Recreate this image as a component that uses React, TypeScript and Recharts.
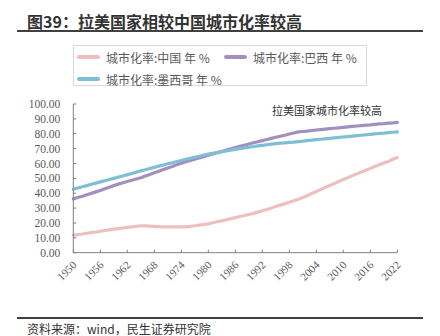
import React from 'react';
import { LineChart, Line, XAxis, YAxis } from 'recharts';

const years = [
  1950, 1951, 1952, 1953, 1954, 1955, 1956, 1957, 1958, 1959,
  1960, 1961, 1962, 1963, 1964, 1965, 1966, 1967, 1968, 1969,
  1970, 1971, 1972, 1973, 1974, 1975, 1976, 1977, 1978, 1979,
  1980, 1981, 1982, 1983, 1984, 1985, 1986, 1987, 1988, 1989,
  1990, 1991, 1992, 1993, 1994, 1995, 1996, 1997, 1998, 1999,
  2000, 2001, 2002, 2003, 2004, 2005, 2006, 2007, 2008, 2009,
  2010, 2011, 2012, 2013, 2014, 2015, 2016, 2017, 2018, 2019,
  2020, 2021, 2022,
];

const china = [
  11.8, 12.2, 12.6, 13.1, 13.5, 13.9, 14.4, 14.9, 15.4, 15.8,
  16.2, 16.6, 17.0, 17.4, 17.8, 18.1, 18.0, 17.9, 17.7, 17.6,
  17.4, 17.4, 17.4, 17.4, 17.4, 17.4, 17.7, 18.1, 18.6, 19.0,
  19.4, 20.1, 20.8, 21.5, 22.2, 22.9, 23.6, 24.3, 25.0, 25.7,
  26.4, 27.3, 28.2, 29.1, 30.0, 31.0, 32.0, 33.0, 33.9, 34.9,
  35.9, 37.1, 38.4, 39.8, 41.1, 42.5, 43.9, 45.2, 46.5, 47.9,
  49.2, 50.5, 51.8, 53.0, 54.3, 55.5, 56.7, 57.9, 59.2, 60.3,
  61.4, 62.8, 64.0,
];

const brazil = [
  36.2, 37.1, 38.0, 39.0, 39.9, 40.9, 41.9, 43.0, 44.0, 45.1,
  46.1, 47.0, 47.9, 48.7, 49.6, 50.4, 51.5, 52.6, 53.7, 54.8,
  55.9, 57.0, 58.0, 59.1, 60.1, 61.2, 62.0, 62.9, 63.8, 64.6,
  65.5, 66.4, 67.3, 68.1, 69.0, 69.9, 70.7, 71.5, 72.3, 73.1,
  73.9, 74.6, 75.4, 76.1, 76.9, 77.6, 78.3, 79.0, 79.8, 80.5,
  81.2, 81.5, 81.8, 82.2, 82.5, 82.8, 83.1, 83.4, 83.7, 84.0,
  84.3, 84.6, 84.9, 85.2, 85.5, 85.8, 86.0, 86.3, 86.6, 86.8,
  87.1, 87.3, 87.6,
];

const mexico = [
  42.7, 43.5, 44.3, 45.1, 46.0, 46.8, 47.6, 48.4, 49.2, 50.0,
  50.8, 51.6, 52.5, 53.3, 54.2, 55.0, 55.8, 56.6, 57.4, 58.2,
  59.0, 59.8, 60.5, 61.3, 62.0, 62.8, 63.5, 64.2, 64.9, 65.6,
  66.3, 66.8, 67.4, 67.9, 68.5, 69.0, 69.5, 70.0, 70.4, 70.9,
  71.4, 71.8, 72.2, 72.6, 73.0, 73.4, 73.7, 73.9, 74.2, 74.4,
  74.7, 75.0, 75.4, 75.7, 76.0, 76.3, 76.6, 76.9, 77.2, 77.5,
  77.8, 78.1, 78.4, 78.7, 79.0, 79.3, 79.6, 79.9, 80.2, 80.4,
  80.7, 81.0, 81.3,
];

const yTicks = [0, 10, 20, 30, 40, 50, 60, 70, 80, 90, 100];

const series = [
  { key: 'china', name: '城市化率:中国 年 %', color: '#EDBFBF' },
  { key: 'brazil', name: '城市化率:巴西 年 %', color: '#A08FBF' },
  { key: 'mexico', name: '城市化率:墨西哥 年 %', color: '#7FBFD4' },
];

const data = years.map((year, i) => ({
  year,
  china: china[i],
  brazil: brazil[i],
  mexico: mexico[i],
}));

const axisColor = '#808080';
const cjk = '"Noto Sans CJK SC", "Noto Sans", sans-serif';
const serif = '"Liberation Serif", "DejaVu Serif", serif';

const XTick = (props: any) => {
  const { x, y, payload } = props;
  return (
    <g transform={`translate(${x},${y})`}>
      <line x1={0} x2={0} y1={0} y2={-3} stroke={axisColor} />
      <g transform="translate(4,13) rotate(-45)">
        <text x={0} y={0} textAnchor="end" style={{ fontSize: 11, fontFamily: serif, fill: '#595959' }}>
          {payload.value}
        </text>
      </g>
    </g>
  );
};

const YTick = (props: any) => {
  const { x, y, payload } = props;
  return (
    <g>
      <line x1={x} x2={x + 3} y1={y} y2={y} stroke={axisColor} />
      <text
        x={x - 13}
        y={y}
        dy="0.35em"
        textAnchor="end"
        style={{ fontSize: 11.5, fontFamily: serif, fill: '#595959' }}
      >
        {payload.value.toFixed(2)}
      </text>
    </g>
  );
};

const LegendItem = ({ color, name, left, top }: any) => (
  <div style={{ position: 'absolute', left, top, display: 'flex', alignItems: 'center', height: 14 }}>
    <div style={{ width: 23, height: 3.5, background: color, borderRadius: 2, marginRight: 6 }} />
    <span style={{ fontSize: 12, color: '#595959', fontFamily: cjk, whiteSpace: 'nowrap' }}>{name}</span>
  </div>
);

export default function App() {
  return (
    <div style={{ position: 'relative', width: 440, height: 336, background: '#fff', fontFamily: cjk }}>
      <style>{'body{margin:0}'}</style>
      <div
        style={{
          position: 'absolute', left: 27, top: 11, fontSize: 16, fontWeight: 'bold',
          color: '#333', whiteSpace: 'nowrap', lineHeight: '20px',
        }}
      >
        图39：拉美国家相较中国城市化率较高
      </div>
      <div style={{ position: 'absolute', left: 17, top: 30, width: 406, height: 2, background: '#404040' }} />

      <div
        style={{
          position: 'absolute', left: 73, top: 45, width: 294, height: 41,
          border: '1px solid #d9d9d9', boxSizing: 'border-box',
        }}
      />
      <LegendItem color={series[0].color} name={series[0].name} left={77} top={50} />
      <LegendItem color={series[1].color} name={series[1].name} left={224} top={50} />
      <LegendItem color={series[2].color} name={series[2].name} left={77} top={72} />

      <LineChart
        width={440}
        height={336}
        data={data}
        margin={{ top: 104, right: 42.7, bottom: 53.3, left: 13.3 }}
        style={{ position: 'absolute', left: 0, top: 0 }}
      >
        <XAxis
          dataKey="year"
          interval={5}
          height={30}
          stroke={axisColor}
          tickLine={false}
          tickSize={0}
          tickMargin={0}
          tick={<XTick />}
        />
        <YAxis
          width={60}
          domain={[0, 100]}
          ticks={yTicks}
          interval={0}
          stroke={axisColor}
          tickLine={false}
          tickSize={0}
          tickMargin={0}
          tick={<YTick />}
        />
        {series.map((s) => (
          <Line
            key={s.key}
            type="linear"
            dataKey={s.key}
            name={s.name}
            stroke={s.color}
            strokeWidth={3.2}
            dot={false}
            strokeLinecap="round"
            isAnimationActive={false}
          />
        ))}
      </LineChart>

      <div
        style={{
          position: 'absolute', left: 272, top: 103, fontSize: 11, color: '#333',
          whiteSpace: 'nowrap', lineHeight: '15px',
        }}
      >
        拉美国家城市化率较高
      </div>

      <div style={{ position: 'absolute', left: 17, top: 317, width: 406, height: 1.5, background: '#404040' }} />
      <div
        style={{
          position: 'absolute', left: 27, top: 321, fontSize: 12, color: '#333',
          whiteSpace: 'nowrap', lineHeight: '16px',
        }}
      >
        资料来源：wind，民生证券研究院
      </div>
    </div>
  );
}
